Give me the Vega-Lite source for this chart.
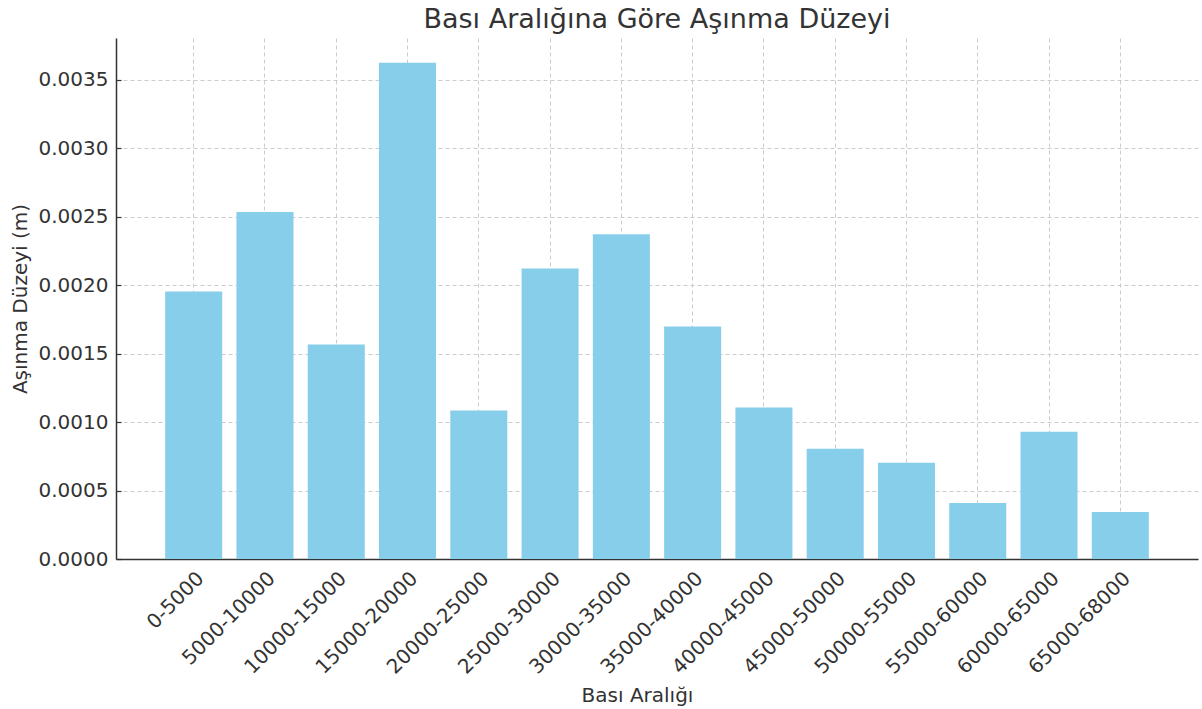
{
  "$schema": "https://vega.github.io/schema/vega-lite/v6.json",
  "autosize": "none",
  "width": 1082,
  "height": 521,
  "padding": {"left": 116, "top": 38, "right": 4, "bottom": 150},
  "background": "white",
  "title": {"text": "Bası Aralığına Göre Aşınma Düzeyi", "fontSize": 27, "font": "DejaVu Sans", "fontWeight": "normal", "color": "#333333", "offset": 4},
  "config": {
    "view": {"stroke": null},
    "font": "DejaVu Sans",
    "axis": {
      "labelFont": "DejaVu Sans",
      "titleFont": "DejaVu Sans",
      "labelFontSize": 20,
      "titleFontSize": 20,
      "titleFontWeight": "normal",
      "labelColor": "#333333",
      "titleColor": "#333333",
      "domainColor": "#333333",
      "domainWidth": 1.5,
      "tickColor": "#333333",
      "tickSize": -5,
      "tickWidth": 1.2,
      "gridColor": "#cccccc",
      "gridDash": [4, 3],
      "gridWidth": 1,
      "zindex": 1
    }
  },
  "data": {
    "values": [
      {"aralik": "0-5000", "asinma": 0.001955},
      {"aralik": "5000-10000", "asinma": 0.002534},
      {"aralik": "10000-15000", "asinma": 0.001567},
      {"aralik": "15000-20000", "asinma": 0.003625},
      {"aralik": "20000-25000", "asinma": 0.001084},
      {"aralik": "25000-30000", "asinma": 0.002123},
      {"aralik": "30000-35000", "asinma": 0.002372},
      {"aralik": "35000-40000", "asinma": 0.001699},
      {"aralik": "40000-45000", "asinma": 0.001106},
      {"aralik": "45000-50000", "asinma": 0.000805},
      {"aralik": "50000-55000", "asinma": 0.000703},
      {"aralik": "55000-60000", "asinma": 0.00041},
      {"aralik": "60000-65000", "asinma": 0.00093},
      {"aralik": "65000-68000", "asinma": 0.000344}
    ]
  },
  "mark": {"type": "bar", "color": "#87CEEB"},
  "encoding": {
    "x": {
      "field": "aralik",
      "type": "nominal",
      "sort": null,
      "scale": {"paddingInner": 0.2, "paddingOuter": 0.69},
      "axis": {"title": "Bası Aralığı", "labelAngle": -45, "labelAlign": "right", "labelBaseline": "top", "labelPadding": 14, "titlePadding": 8, "titleX": 521, "grid": true}
    },
    "y": {
      "field": "asinma",
      "type": "quantitative",
      "scale": {"domain": [0, 0.003806], "nice": false},
      "axis": {"title": "Aşınma Düzeyi (m)", "values": [0, 0.0005, 0.001, 0.0015, 0.002, 0.0025, 0.003, 0.0035], "format": ".4f", "labelPadding": 13, "titlePadding": 8, "grid": true}
    }
  }
}
